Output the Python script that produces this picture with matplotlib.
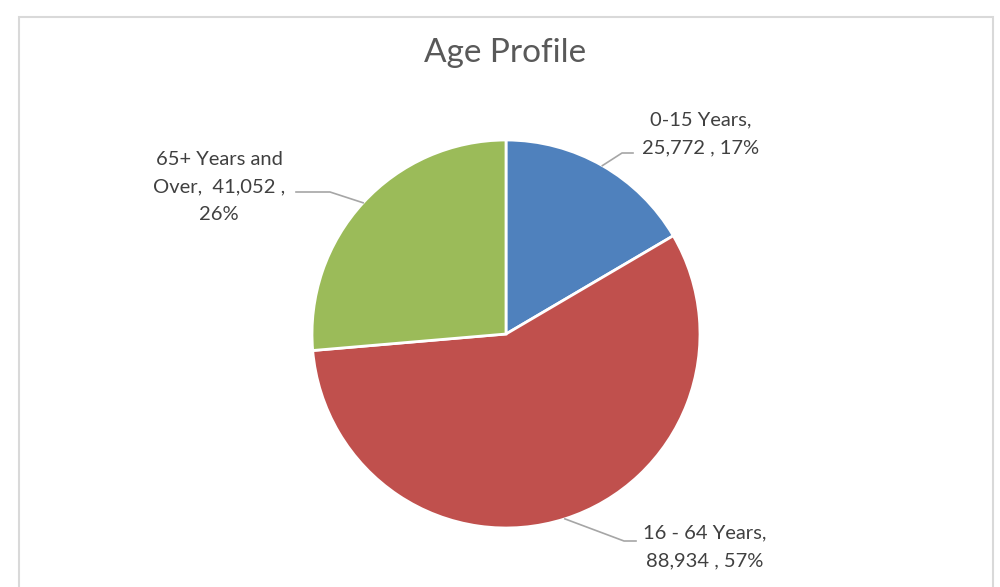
import numpy as np
import matplotlib.pyplot as plt
from matplotlib.patches import Rectangle

# data
categories = ["0-15 Years", "16 - 64 Years", "65+ Years and Over"]
values = [25772, 88934, 41052]
percents = ["17%", "57%", "26%"]
colors = ["#4F81BD", "#C0504D", "#9BBB59"]

W, H = 1000, 587
plt.rcParams['font.family'] = ['Lato', 'DejaVu Sans']

fig = plt.figure(figsize=(W / 100, H / 100), dpi=100)
ax = fig.add_axes([0, 0, 1, 1])

def Y(y):
    # pixel row -> data y
    return H - y

cx, cy, r = 506, 334, 194
wedges, _ = ax.pie(values, colors=colors, startangle=90, counterclock=False,
                   center=(cx, Y(cy)), radius=r, frame=True,
                   wedgeprops=dict(edgecolor="white", linewidth=2))
ax.set_xlim(0, W)
ax.set_ylim(0, H)
ax.set_aspect('equal')
ax.axis('off')

# chart frame
ax.add_patch(Rectangle((18.5, Y(H + 10)), 974, H + 2 - 8.5, fill=False,
                       edgecolor="#d9d9d9", lw=1.5))

ax.text(505, Y(53), "Age Profile", ha="center", va="center",
        fontsize=24, color="#595959")

txt = "#404040"
lab_kw = dict(ha="center", va="center", fontsize=14.5, color=txt, linespacing=1.75)
labels = [
    (f"{categories[0]},\n{values[0]:,} , {percents[0]}", (701, 134), [(622, 153), (633, 153)]),
    (f"{categories[1]},\n{values[1]:,} , {percents[1]}", (705, 547), [(624, 541), (636, 541)]),
    ("65+ Years and\nOver,  {:,} ,\n{}".format(values[2], percents[2]), (219, 187), [(330, 192), (296, 192)]),
]

total = sum(values)
start = 0
for v, (text, (lx, ly), pts) in zip(values, labels):
    mid = start + v / 2
    start += v
    ang = np.deg2rad(90 - 360 * mid / total)
    ex, ey = cx + r * np.cos(ang), cy - r * np.sin(ang)
    xs = [ex] + [p[0] for p in pts]
    ys = [Y(ey)] + [Y(p[1]) for p in pts]
    ax.plot(xs, ys, color="#a6a6a6", lw=1.2)
    ax.text(lx, Y(ly), text, **lab_kw)

fig.savefig("out.png", dpi=100)
